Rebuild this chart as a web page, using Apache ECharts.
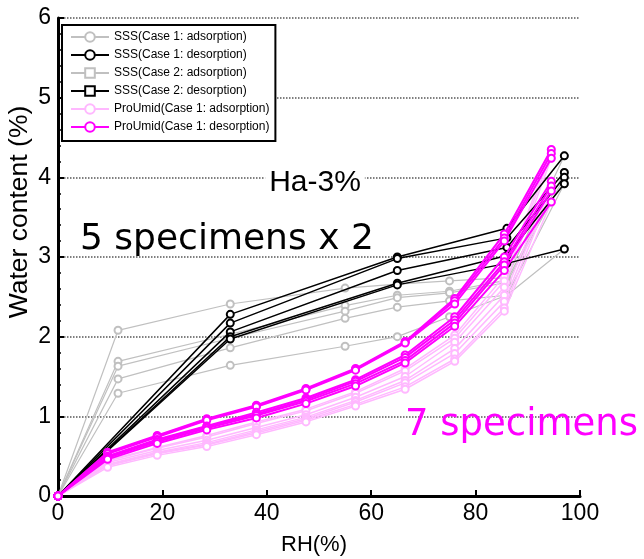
<!DOCTYPE html>
<html>
<head>
<meta charset="utf-8">
<script src="https://cdn.jsdelivr.net/npm/echarts@6/dist/echarts.min.js"></script>
<style>
html,body{margin:0;padding:0;background:#fff;}
#chart{width:644px;height:559px;}
</style>
</head>
<body>
<div id="chart"></div>
<script>
// ---------- data ----------
const xTicks = [0, 20, 40, 60, 80, 100];
const yTicks = [0, 1, 2, 3, 4, 5, 6];

// SSS adsorption (grey): RH steps
const sssAdsRH = [0, 11.5, 33, 55, 65, 75, 86, 97];
const sssAdsValues = [
  [0, 2.08, 2.41, 2.61, 2.66, 2.70, 2.74, 4.27],
  [0, 1.69, 2.03, 2.39, 2.52, 2.57, 2.71, 4.06],
  [0, 1.63, 1.98, 2.32, 2.49, 2.55, 2.68, 4.00],
  [0, 1.47, 1.86, 2.23, 2.37, 2.45, 2.52, 3.92],
  [0, 1.29, 1.64, 1.88, 2.00, 2.25, 2.52, 3.10]
];

// SSS desorption (black)
const sssDesRH = [0, 33, 65, 86, 97];
const sssDesValues = [
  [0, 2.28, 3.00, 3.36, 4.27],
  [0, 2.17, 2.98, 3.24, 4.06],
  [0, 2.06, 2.83, 3.12, 4.00],
  [0, 2.00, 2.67, 3.02, 3.92],
  [0, 1.97, 2.65, 2.92, 3.10]
];

// ProUmid RH steps
const proRH = [0, 9.5, 19, 28.5, 38, 47.5, 57, 66.5, 76, 85.5, 94.5];
const proAdsValues = [
  [0, 0.45, 0.61, 0.76, 0.93, 1.09, 1.31, 1.60, 2.02, 2.76, 4.35],
  [0, 0.44, 0.60, 0.74, 0.91, 1.07, 1.29, 1.57, 1.98, 2.70, 4.30],
  [0, 0.42, 0.57, 0.70, 0.86, 1.02, 1.24, 1.50, 1.93, 2.62, 4.24],
  [0, 0.40, 0.55, 0.67, 0.83, 0.99, 1.20, 1.45, 1.85, 2.52, 3.95],
  [0, 0.39, 0.54, 0.65, 0.81, 0.97, 1.18, 1.42, 1.79, 2.44, 3.89],
  [0, 0.38, 0.53, 0.64, 0.79, 0.95, 1.15, 1.37, 1.72, 2.36, 3.83],
  [0, 0.36, 0.51, 0.62, 0.77, 0.93, 1.13, 1.34, 1.69, 2.32, 3.69]
];
const proDesValues = [
  [0, 0.55, 0.76, 0.97, 1.14, 1.35, 1.60, 1.94, 2.48, 3.29, 4.35],
  [0, 0.54, 0.75, 0.96, 1.13, 1.34, 1.59, 1.93, 2.45, 3.24, 4.30],
  [0, 0.53, 0.74, 0.95, 1.12, 1.33, 1.58, 1.92, 2.41, 3.20, 4.24],
  [0, 0.50, 0.71, 0.88, 1.05, 1.23, 1.46, 1.77, 2.25, 3.00, 3.95],
  [0, 0.49, 0.70, 0.87, 1.03, 1.21, 1.44, 1.74, 2.21, 2.94, 3.89],
  [0, 0.48, 0.68, 0.85, 1.01, 1.19, 1.41, 1.70, 2.17, 2.90, 3.83],
  [0, 0.46, 0.66, 0.83, 0.98, 1.16, 1.38, 1.67, 2.13, 2.83, 3.69]
];

const legendNames = [
  'SSS(Case 1: adsorption)',
  'SSS(Case 1: desorption)',
  'SSS(Case 2: adsorption)',
  'SSS(Case 2: desorption)',
  'ProUmid(Case 1: adsorption)',
  'ProUmid(Case 1: desorption)'
];

// ---------- build ----------
const FONT = 'Liberation Sans, Arial, sans-serif';
function pairs(xs, ys) { return xs.map((x, i) => [x, ys[i]]); }
function mkSeries(name, data, color, width, symbol, z) {
  return {
    name: name, type: 'line', data: data,
    symbol: symbol, symbolSize: 7, showSymbol: true,
    lineStyle: { color: color, width: width },
    itemStyle: { color: color, borderColor: color, borderWidth: 1.2 },
    emphasis: { disabled: true },
    animation: false, z: z
  };
}
const series = [];
sssAdsValues.forEach(v => series.push(mkSeries(legendNames[0], pairs(sssAdsRH, v), '#c0c0c0', 1.2, 'emptyCircle', 2)));
series.push(mkSeries(legendNames[2], [], '#c0c0c0', 1.2, 'emptyRect', 2));
proAdsValues.forEach(v => series.push(mkSeries(legendNames[4], pairs(proRH, v), '#ffb8ff', 1.5, 'emptyCircle', 3)));
sssDesValues.forEach(v => series.push(mkSeries(legendNames[1], pairs(sssDesRH, v), '#000000', 1.5, 'emptyCircle', 4)));
series.push(mkSeries(legendNames[3], [], '#000000', 1.5, 'emptyRect', 4));
proDesValues.forEach(v => series.push(mkSeries(legendNames[5], pairs(proRH, v), '#ff00ff', 2, 'emptyCircle', 5)));

const chart = echarts.init(document.getElementById('chart'), null, { renderer: 'canvas' });
chart.setOption({
  backgroundColor: '#fff',
  animation: false,
  grid: { left: 58, right: 64, top: 18, bottom: 63, containLabel: false, outerBoundsMode: 'none' },
  xAxis: {
    type: 'value', min: xTicks[0], max: xTicks[xTicks.length - 1], interval: 20,
    axisLine: { lineStyle: { color: '#000', width: 3 } },
    axisTick: { inside: true, length: 6, lineStyle: { color: '#000', width: 2 } },
    axisLabel: { color: '#000', fontSize: 23, fontFamily: FONT, margin: 6 },
    splitLine: { show: false }
  },
  yAxis: {
    type: 'value', min: yTicks[0], max: yTicks[yTicks.length - 1], interval: 1,
    axisLine: { show: true, lineStyle: { color: '#000', width: 3 } },
    axisTick: { show: true, inside: true, length: 6, lineStyle: { color: '#000', width: 2 } },
    minorTick: { show: true, splitNumber: 5, length: 3, lineStyle: { color: '#000', width: 1.5 } },
    axisLabel: { color: '#000', fontSize: 23, fontFamily: FONT, margin: 7 },
    splitLine: { show: true, lineStyle: { color: '#555', width: 1.5, type: [1.5, 1.5] } }
  },
  legend: {
    data: legendNames,
    orient: 'vertical', left: 62, top: 25,
    backgroundColor: '#fff', borderColor: '#000', borderWidth: 2, borderRadius: 0,
    padding: [6, 6, 8, 8],
    itemWidth: 38, itemHeight: 12, itemGap: 6,
    textStyle: { color: '#000', fontSize: 12, fontFamily: FONT, lineHeight: 12 },
    selectedMode: false
  },
  graphic: [
    { type: 'text', z: 10, x: 20, y: 212, rotation: Math.PI / 2,
      style: { text: 'Water content (%)', fontSize: 26.5, fontFamily: FONT, fill: '#000', align: 'center', verticalAlign: 'middle' } },
    { type: 'text', z: 10, x: 314, y: 545,
      style: { text: 'RH(%)', fontSize: 22, fontFamily: FONT, fill: '#000', align: 'center', verticalAlign: 'middle' } },
    { type: 'text', z: 10, x: 315, y: 183,
      style: { text: 'Ha-3%', fontSize: 30, fontFamily: FONT, fill: '#000', align: 'center', verticalAlign: 'middle', backgroundColor: '#fff', padding: [0, 4] } },
    { type: 'text', z: 10, x: 80, y: 240,
      style: { text: '5 specimens x 2', fontSize: 36, fontFamily: 'DejaVu Sans', fill: '#000', align: 'left', verticalAlign: 'middle' } },
    { type: 'text', z: 10, x: 405, y: 425,
      style: { text: '7 specimens', fontSize: 37, fontFamily: 'DejaVu Sans', fill: '#ff00ff', align: 'left', verticalAlign: 'middle' } }
  ],
  series: series
});
</script>
</body>
</html>
